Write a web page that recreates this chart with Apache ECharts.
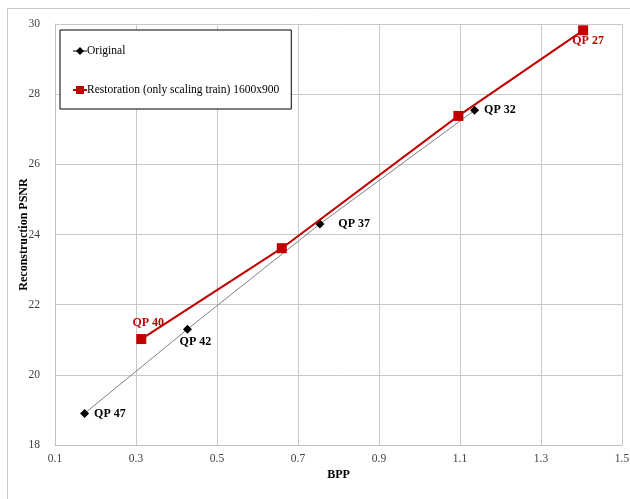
<!DOCTYPE html>
<html>
<head>
<meta charset="utf-8">
<script src="https://cdn.jsdelivr.net/npm/echarts@6/dist/echarts.min.js"></script>
<style>html,body{margin:0;padding:0;background:#fff;}#c{width:630px;height:499px;}</style>
</head>
<body>
<div id="c"></div>
<script>
var origX = [0.173, 0.427, 0.754, 1.136];
var origY = [18.90, 21.30, 24.30, 27.54];
var origLabels = ['QP 47', 'QP 42', 'QP 37', 'QP 32'];
var restX = [0.313, 0.660, 1.096, 1.404];
var restY = [21.02, 23.61, 27.38, 29.82];
var restLabels = ['QP 40', '', '', 'QP 27'];
var xTicks = [0.1, 0.3, 0.5, 0.7, 0.9, 1.1, 1.3, 1.5];
var yTicks = [18, 20, 22, 24, 26, 28, 30];

var FONT = '"Liberation Serif", "Times New Roman", serif';
var origLabelCfg = [
  {position: 'right', distance: 5, offset: [0, 0]},
  {position: 'bottom', distance: 2, offset: [8, 0]},
  {position: 'right', distance: 14, offset: [0, 0]},
  {position: 'right', distance: 5, offset: [0, 0]}
];
var restLabelCfg = [
  {position: 'top', distance: 5, offset: [7, 0]},
  {position: 'top', distance: 5, offset: [0, 0]},
  {position: 'top', distance: 5, offset: [0, 0]},
  {position: 'bottom', distance: 0, offset: [5, 0]}
];

var origData = origX.map(function (x, i) {
  return {value: [x, origY[i]], label: Object.assign({show: true, formatter: origLabels[i]}, origLabelCfg[i])};
});
var restData = restX.map(function (x, i) {
  return {value: [x, restY[i]], label: Object.assign({show: !!restLabels[i], formatter: restLabels[i]}, restLabelCfg[i])};
});

var chart = echarts.init(document.getElementById('c'));
chart.setOption({
  animation: false,
  backgroundColor: '#fff',
  textStyle: {fontFamily: FONT},
  grid: {left: 55, right: 8, top: 24, bottom: 54, containLabel: false, outerBoundsMode: 'none'},
  graphic: [
    {type: 'line', shape: {x1: 7, y1: 8.5, x2: 630, y2: 8.5}, style: {stroke: '#c8c8c8', lineWidth: 1}, silent: true},
    {type: 'line', shape: {x1: 7.5, y1: 8, x2: 7.5, y2: 499}, style: {stroke: '#c8c8c8', lineWidth: 1}, silent: true}
  ],
  legend: {
    orient: 'vertical',
    left: 60,
    top: 30,
    padding: [15, 12, 13, 12],
    itemGap: 27,
    itemWidth: 14,
    itemHeight: 10,
    borderColor: '#000',
    borderWidth: 1,
    backgroundColor: '#fff',
    textStyle: {fontFamily: FONT, fontSize: 11.5, color: '#000', padding: [0, 0, 0, -5]},
    data: ['Original', 'Restoration (only scaling train) 1600x900']
  },
  xAxis: {
    type: 'value',
    min: 0.1, max: 1.5, interval: 0.2,
    name: 'BPP',
    nameLocation: 'middle',
    nameGap: 24,
    nameMoveOverlap: false,
    nameTextStyle: {fontFamily: FONT, fontWeight: 'bold', fontSize: 12, color: '#000'},
    axisLine: {show: true, lineStyle: {color: '#bfbfbf', width: 1}},
    axisTick: {show: false},
    splitLine: {show: true, lineStyle: {color: '#c8c8c8', width: 1}},
    axisLabel: {
      fontFamily: FONT, fontSize: 11.5, color: '#404040', margin: 8,
      formatter: function (v) { var t = xTicks.filter(function (k) { return Math.abs(k - v) < 1e-6; }); return t.length ? String(t[0]) : ''; }
    }
  },
  yAxis: {
    type: 'value',
    min: 18, max: 30, interval: 2,
    name: 'Reconstruction PSNR',
    nameLocation: 'middle',
    nameGap: 25,
    nameMoveOverlap: false,
    nameTextStyle: {fontFamily: FONT, fontWeight: 'bold', fontSize: 12, color: '#000'},
    axisLine: {show: true, lineStyle: {color: '#bfbfbf', width: 1}},
    axisTick: {show: false},
    splitLine: {show: true, lineStyle: {color: '#c8c8c8', width: 1}},
    axisLabel: {
      fontFamily: FONT, fontSize: 11.5, color: '#404040', margin: 15,
      formatter: function (v) { return yTicks.indexOf(v) >= 0 ? String(v) : ''; }
    }
  },
  series: [
    {
      name: 'Original',
      type: 'line',
      data: origData,
      symbol: 'diamond',
      symbolSize: 9,
      itemStyle: {color: '#000'},
      lineStyle: {color: '#808080', width: 1},
      label: {fontFamily: FONT, fontWeight: 'bold', fontSize: 12, color: '#000'},
      z: 3
    },
    {
      name: 'Restoration (only scaling train) 1600x900',
      type: 'line',
      data: restData,
      symbol: 'rect',
      symbolSize: 10,
      itemStyle: {color: '#c00000'},
      lineStyle: {color: '#c00000', width: 2},
      label: {fontFamily: FONT, fontWeight: 'bold', fontSize: 12, color: '#c00000'},
      z: 4
    }
  ]
});
</script>
</body>
</html>
